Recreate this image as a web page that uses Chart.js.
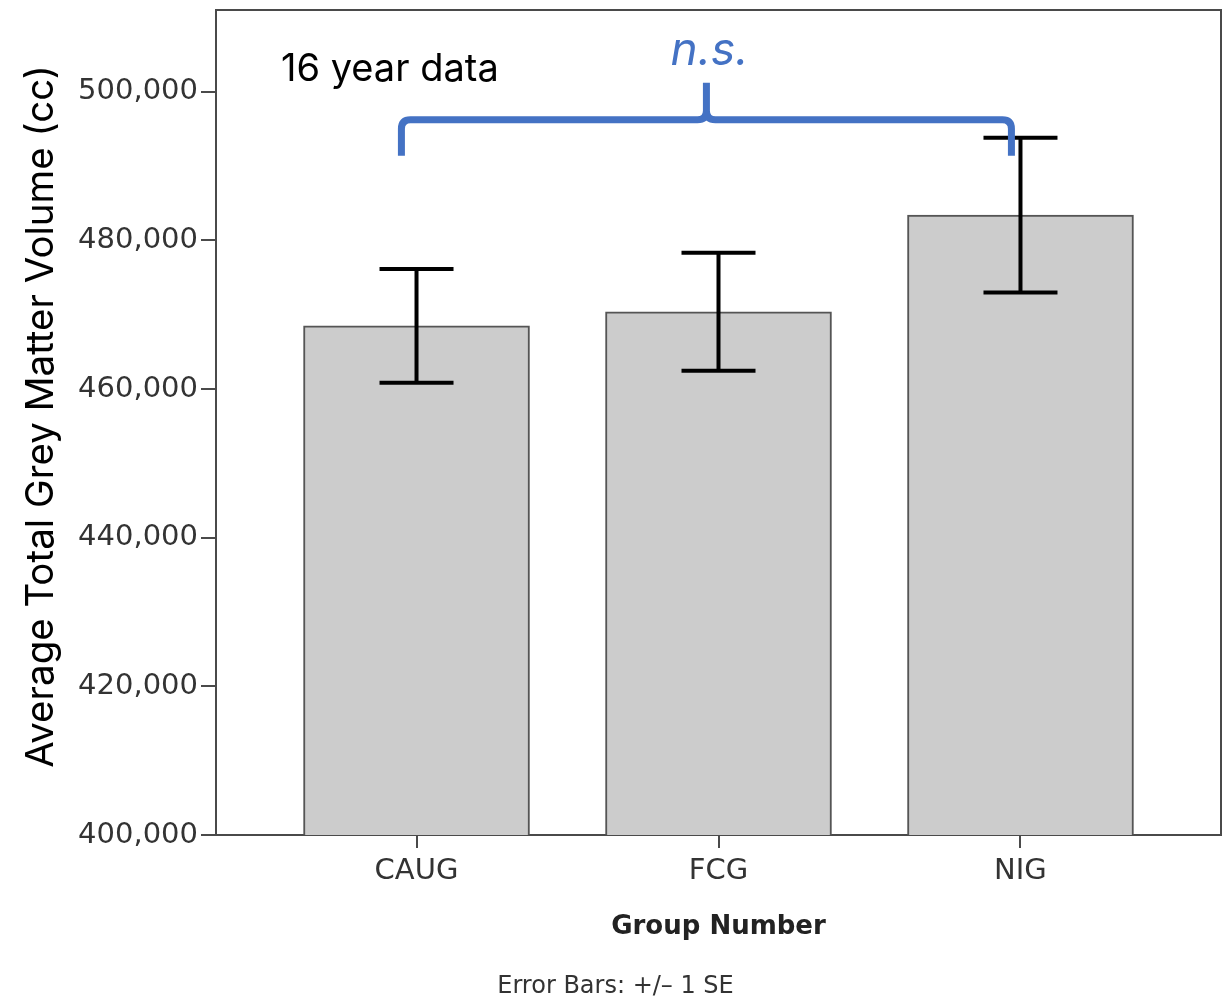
<!DOCTYPE html>
<html>
<head>
<meta charset="utf-8">
<script src="https://cdn.jsdelivr.net/npm/chart.js@4.4.0/dist/chart.umd.min.js"></script>
<style>
  html, body { margin: 0; padding: 0; background: #ffffff; }
  #wrap { width: 1231px; height: 998px; }
</style>
</head>
<body>
<div id="wrap"><canvas id="chart" width="1231" height="998"></canvas></div>
<script>
// Group means and standard errors of total grey matter volume (cc)
const groups = ['CAUG', 'FCG', 'NIG'];
const meanVolume = [468500, 470400, 483400];
const standardError = [7650, 7950, 10400];
const yTickValues = [400000, 420000, 440000, 460000, 480000, 500000];

// Significance bracket spanning the groups, in axis units
const bracketX = [-0.05, 0.96, 1.97];   // left end, centre tip, right end
const bracketY = [491400, 496230, 501200]; // feet, bar, tip

const AXIS_GREY = '#4a4a4a';
const TICK_FONT = { family: 'DejaVu Sans', size: 29 };
const ACCENT = '#4472c4';

const annotations = {
  id: 'annotations',
  afterDatasetsDraw(chart) {
    const { ctx, chartArea, scales: { x, y } } = chart;
    ctx.save();

    // frame around the plot
    ctx.strokeStyle = AXIS_GREY;
    ctx.lineWidth = 2;
    ctx.beginPath();
    ctx.moveTo(chartArea.left, chartArea.top);
    ctx.lineTo(chartArea.right, chartArea.top);
    ctx.lineTo(chartArea.right, chartArea.bottom);
    ctx.stroke();

    // +/- 1 SE error bars
    ctx.strokeStyle = '#000000';
    ctx.lineWidth = 4;
    ctx.lineCap = 'butt';
    meanVolume.forEach((m, i) => {
      const px = x.getPixelForValue(i);
      const top = y.getPixelForValue(m + standardError[i]);
      const bot = y.getPixelForValue(m - standardError[i]);
      const half = 37;
      ctx.beginPath();
      ctx.moveTo(px, top); ctx.lineTo(px, bot);
      ctx.moveTo(px - half, top); ctx.lineTo(px + half, top);
      ctx.moveTo(px - half, bot); ctx.lineTo(px + half, bot);
      ctx.stroke();
    });

    // curly bracket
    const xl = x.getPixelForValue(bracketX[0]);
    const xm = x.getPixelForValue(bracketX[1]);
    const xr = x.getPixelForValue(bracketX[2]);
    const yf = y.getPixelForValue(bracketY[0]);
    const yb = y.getPixelForValue(bracketY[1]);
    const yt = y.getPixelForValue(bracketY[2]);
    const r = 9;
    ctx.strokeStyle = ACCENT;
    ctx.lineWidth = 7;
    ctx.lineJoin = 'round';
    ctx.beginPath();
    ctx.moveTo(xl, yf);
    ctx.lineTo(xl, yb + r);
    ctx.quadraticCurveTo(xl, yb, xl + r, yb);
    ctx.lineTo(xm - r, yb);
    ctx.quadraticCurveTo(xm, yb, xm, yb - r);
    ctx.lineTo(xm, yt);
    ctx.moveTo(xm, yb - r);
    ctx.quadraticCurveTo(xm, yb, xm + r, yb);
    ctx.lineTo(xr - r, yb);
    ctx.quadraticCurveTo(xr, yb, xr, yb + r);
    ctx.lineTo(xr, yf);
    ctx.stroke();

    // labels
    ctx.fillStyle = ACCENT;
    ctx.font = 'italic 46px Inter';
    ctx.textAlign = 'center';
    ctx.textBaseline = 'alphabetic';
    ctx.fillText('n.s.', xm + 3, chartArea.top + 55);

    ctx.fillStyle = '#000000';
    ctx.font = '38px Inter';
    ctx.textAlign = 'left';
    ctx.fillText('16 year data', 281, chartArea.top + 71);

    // y axis title
    ctx.save();
    ctx.translate(53, (chartArea.top + chartArea.bottom) / 2 - 6);
    ctx.rotate(-Math.PI / 2);
    ctx.font = '38.5px Inter';
    ctx.textAlign = 'center';
    ctx.fillText('Average Total Grey Matter Volume (cc)', 0, 0);
    ctx.restore();

    // x axis title and footnote
    ctx.fillStyle = '#222222';
    ctx.font = 'bold 26px DejaVu Sans';
    ctx.textAlign = 'center';
    ctx.fillText('Group Number', x.getPixelForValue(1), chartArea.bottom + 99);
    ctx.fillStyle = '#333333';
    ctx.font = '24px DejaVu Sans';
    ctx.fillText('Error Bars: +/\u2013 1 SE', chart.width / 2, chartArea.bottom + 158);

    ctx.restore();
  }
};

new Chart(document.getElementById('chart'), {
  type: 'bar',
  data: {
    datasets: [{
      data: groups.map((g, i) => ({ x: i, y: meanVolume[i] })),
      backgroundColor: '#cccccc',
      borderColor: '#555555',
      borderWidth: 2,
      borderSkipped: false,
      barThickness: 226
    }]
  },
  options: {
    responsive: false,
    animation: false,
    layout: { padding: { top: 10, right: 10, left: 0, bottom: 0 } },
    plugins: { legend: { display: false }, tooltip: { enabled: false } },
    scales: {
      x: {
        type: 'linear',
        offset: false,
        min: -0.664,
        max: 2.664,
        afterBuildTicks(scale) { scale.ticks = groups.map((g, i) => ({ value: i })); },
        afterFit(scale) {
          scale.height = 163;
          scale.paddingLeft = 0;
          scale.paddingRight = 0;
        },
        ticks: {
          callback: (v) => groups[v] ?? '',
          font: TICK_FONT,
          color: '#333333',
          padding: 6,
          maxRotation: 0,
          autoSkip: false
        },
        grid: { offset: false, drawOnChartArea: false, tickLength: 13, color: AXIS_GREY, lineWidth: 2 },
        border: { display: true, color: AXIS_GREY, width: 2 }
      },
      y: {
        min: 400000,
        max: 511000,
        afterBuildTicks(scale) { scale.ticks = yTickValues.map(v => ({ value: v })); },
        afterFit(scale) {
          scale.width = 216;
          scale.paddingTop = 0;
          scale.paddingBottom = 0;
        },
        ticks: {
          callback: (v) => v.toLocaleString('en-US'),
          font: TICK_FONT,
          color: '#333333',
          padding: 3
        },
        grid: { drawOnChartArea: false, tickLength: 15, color: AXIS_GREY, lineWidth: 2 },
        border: { display: true, color: AXIS_GREY, width: 2 }
      }
    }
  },
  plugins: [annotations]
});
</script>
</body>
</html>
